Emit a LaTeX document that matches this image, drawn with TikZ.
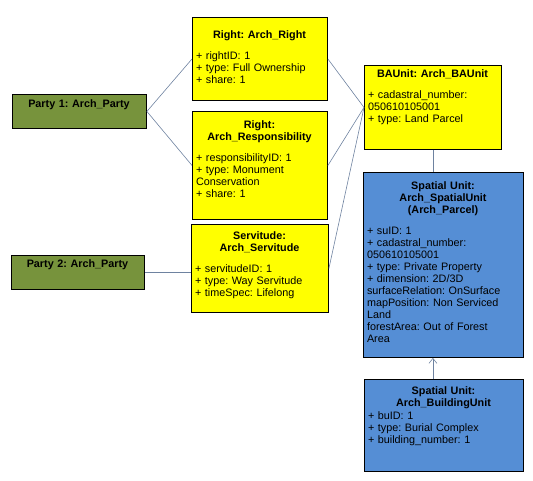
\documentclass[tikz,border=0pt]{standalone}
\usepackage{fontspec}
\setmainfont{Liberation Sans}
\usepackage{tikz}
\usetikzlibrary{arrows.meta}
\frenchspacing

\definecolor{partygreen}{RGB}{119,147,60}
\definecolor{rrryellow}{RGB}{255,255,0}
\definecolor{unitblue}{RGB}{85,142,213}
\definecolor{linkgray}{RGB}{110,130,160}

\begin{document}
\begin{tikzpicture}[x=1pt,y=1pt,yscale=-1,xscale=1,
        umlbox/.style={draw=black,line width=0.9pt,anchor=north west,inner sep=0pt},
        partybox/.style={umlbox,fill=partygreen},
        rrrbox/.style={umlbox,fill=rrryellow},
        unitbox/.style={umlbox,fill=unitblue},
        umltext/.style={anchor=north,inner sep=0pt,align=left,font=\fontsize{10.8}{12}\selectfont},
        link/.style={draw=linkgray,line width=0.6pt}]
        \useasboundingbox (0,0) rectangle (533,480);
        % frames
        \node (party1) [partybox,minimum width=134pt,minimum height=34pt] at (12,94) {};
        \node (party2) [partybox,minimum width=133pt,minimum height=34pt] at (11,255) {};
        \node (right) [rrrbox,minimum width=135pt,minimum height=83pt] at (192,17) {};
        \node (resp) [rrrbox,minimum width=135pt,minimum height=108pt] at (192,111) {};
        \node (serv) [rrrbox,minimum width=137pt,minimum height=88pt] at (191,224) {};
        \node (baunit) [rrrbox,minimum width=137pt,minimum height=84pt] at (364,65) {};
        \node (spatial) [unitbox,minimum width=160pt,minimum height=185pt] at (363,172) {};
        \node (building) [unitbox,minimum width=159pt,minimum height=92pt] at (364,379) {};
        % texts
        \node (party1t) [umltext,text width=126pt] at (79,99) {{\centering\bfseries Party 1: Arch\_Party\par}};
        \node (party2t) [umltext,text width=125pt] at (77.5,259) {{\centering\bfseries Party 2: Arch\_Party\par}};
        \node (rightt) [umltext,text width=127pt] at (259.5,30) {{\centering\bfseries Right: Arch\_Right\par}\vspace{9pt}
                + rightID: 1\\ + type: Full Ownership\\ + share: 1};
        \node (respt) [umltext,text width=127pt] at (259.5,120) {{\centering\bfseries Right:\\ Arch\_Responsibility\par}\vspace{9pt}
                + responsibilityID: 1\\ + type: Monument\\ Conservation\\ + share: 1};
        \node (servt) [umltext,text width=129pt] at (259.5,231) {{\centering\bfseries Servitude:\\ Arch\_Servitude\par}\vspace{9pt}
                + servitudeID: 1\\ + type: Way Servitude\\ + timeSpec: Lifelong};
        \node (baunitt) [umltext,text width=129pt] at (432.5,69) {{\centering\bfseries BAUnit: Arch\_BAUnit\par}\vspace{9pt}
                + cadastral\_number:\\ 050610105001\\ + type: Land Parcel};
        \node (spatialt) [umltext,text width=152pt] at (443,181) {{\centering\bfseries Spatial Unit:\\ Arch\_SpatialUnit\\ (Arch\_Parcel)\par}\vspace{9pt}
                + suID: 1\\ + cadastral\_number:\\ 050610105001\\ + type: Private Property\\ + dimension: 2D/3D\\
                surfaceRelation: OnSurface\\ mapPosition: Non Serviced\\ Land\\ forestArea: Out of Forest\\ Area};
        \node (buildingt) [umltext,text width=151pt] at (443.5,386) {{\centering\bfseries Spatial Unit:\\ Arch\_BuildingUnit\par}\vspace{1pt}
                + buID: 1\\ + type: Burial Complex\\ + building\_number: 1};
        % links
        \draw [link] (party1.east) -- (right.west);
        \draw [link] (party1.east) -- (resp.west);
        \draw [link] (party2.east) -- (party2.east -| serv.west);
        \draw [link] (right.east) -- (baunit.west);
        \draw [link] (resp.east) -- (baunit.west);
        \draw [link] (serv.east) -- (baunit.west);
        \draw [link] (baunit.south) -- (baunit.south |- spatial.north);
        \draw [link,-{Straight Barb[length=5pt,width=8pt]}] (baunit.south |- building.north) -- (baunit.south |- spatial.south);
    \end{tikzpicture}
\end{document}
